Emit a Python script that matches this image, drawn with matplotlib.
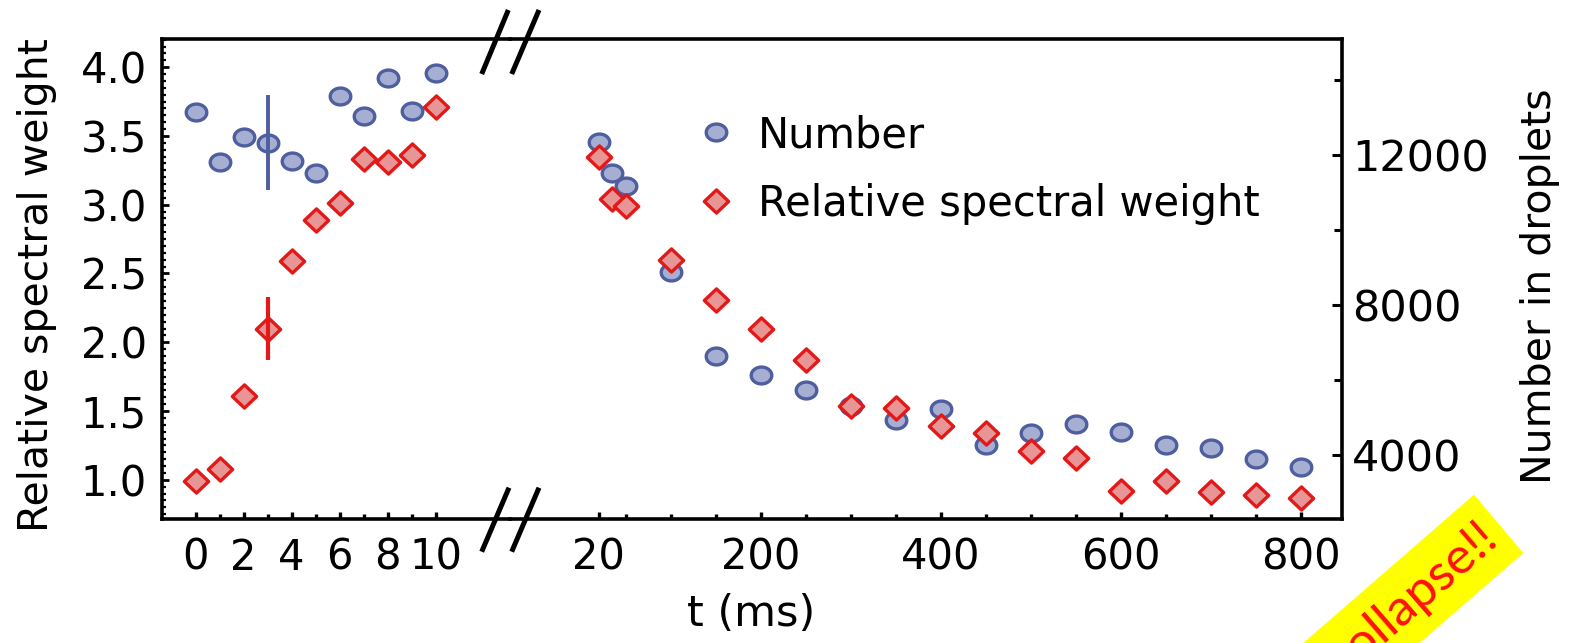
import matplotlib
matplotlib.use("Agg")
import matplotlib.pyplot as plt
import numpy as np
from matplotlib.path import Path
from matplotlib.lines import Line2D
from matplotlib.patches import Polygon
from matplotlib.ticker import MultipleLocator, FormatStrFormatter

# ---------------- data ----------------
t_early = [0, 1, 2, 3, 4, 5, 6, 7, 8, 9, 10]
number_early = [13150, 11820, 12490, 12330, 11850, 11530, 13580, 13040, 14040, 13180, 14180]
weight_early = [0.99, 1.08, 1.61, 2.10, 2.59, 2.89, 3.01, 3.33, 3.31, 3.36, 3.71]

t_late = [20, 35, 50, 100, 150, 200, 250, 300, 350, 400, 450, 500, 550, 600, 650, 700, 750, 800]
number_late = [12350, 11530, 11170, 8890, 6640, 6130, 5750, 5310, 4930, 5230, 4270, 4600,
               4820, 4630, 4270, 4200, 3890, 3680]
weight_late = [3.35, 3.04, 2.99, 2.60, 2.31, 2.10, 1.87, 1.54, 1.52, 1.39, 1.34, 1.21,
               1.16, 0.92, 0.99, 0.91, 0.89, 0.87]

err_t = [3]
err_number_val = [12330]
err_number = [1275]
err_weight_val = [2.10]
err_weight = [0.23]

xticks_early = [0, 2, 4, 6, 8, 10]
xticks_early_minor = [1, 3, 5, 7, 9]
xticks_late = [20, 200, 400, 600, 800]
xticks_late_minor = [50, 100, 150, 250, 300, 350, 450, 500, 550, 650, 700, 750]
yticks_left = [1.0, 1.5, 2.0, 2.5, 3.0, 3.5, 4.0]
yticks_right = [4000, 8000, 12000]
yticks_right_minor = [6000, 10000, 14000]

# ---------------- layout helpers ----------------
W, H = 1574, 643
fig = plt.figure(figsize=(W / 100, H / 100), dpi=100)
plt.rcParams["font.family"] = ["DejaVu Sans"]


def fx(px):
    return px / W


def fy(py):
    return 1 - py / H


LEFT, BRK, RIGHT, TOP, BOT = 161.7, 510.0, 1342.3, 39.3, 518.7
rectL = [fx(LEFT), fy(BOT), fx(BRK) - fx(LEFT), fy(TOP) - fy(BOT)]
rectR = [fx(BRK), fy(BOT), fx(RIGHT) - fx(BRK), fy(TOP) - fy(BOT)]

XL_EARLY = (-1.417, 13.10)
XL_LATE = (-78.6, 846.2)
YL_W = (0.717, 4.203)
YL_N = (2308, 15083)

blue_face, blue_edge = "#a6aed2", "#4e5e9e"
red_face, red_edge = "#e79595", "#e31818"

th = np.linspace(0, 2 * np.pi, 73)
ellipse = Path(np.column_stack([np.cos(th), 0.82 * np.sin(th)]), closed=True)
diamond = Path([(0, 1), (1.05, 0), (0, -1), (-1.05, 0), (0, 1)], closed=True)

ms_c, ms_d, mew = 14.8, 17.5, 2.4
SPW = 2.6
FS = 30

# number-scale axes (drawn first, underneath)
axLn = fig.add_axes(rectL)
axRn = fig.add_axes(rectR)
# weight-scale axes (on top, transparent)
axLw = fig.add_axes(rectL)
axRw = fig.add_axes(rectR)

for a in (axLw, axRw):
    a.patch.set_alpha(0)

for a, xl in ((axLn, XL_EARLY), (axLw, XL_EARLY), (axRn, XL_LATE), (axRw, XL_LATE)):
    a.set_xlim(*xl)
for a in (axLn, axRn):
    a.set_ylim(*YL_N)
for a in (axLw, axRw):
    a.set_ylim(*YL_W)

# --- Number series (blue circles)
for a, t, n in ((axLn, t_early, number_early), (axRn, t_late, number_late)):
    a.plot(t, n, ls="none", marker=ellipse, ms=ms_c, mfc=blue_face, mec=blue_edge, mew=mew, zorder=2)
axLn.errorbar(err_t, err_number_val, yerr=err_number, fmt="none", ecolor=blue_edge, elinewidth=2.8, capsize=0, zorder=3)

# --- Relative spectral weight series (red diamonds)
for a, t, w in ((axLw, t_early, weight_early), (axRw, t_late, weight_late)):
    a.plot(t, w, ls="none", marker=diamond, ms=ms_d, mfc=red_face, mec=red_edge, mew=mew, zorder=2)
axLw.errorbar(err_t, err_weight_val, yerr=err_weight, fmt="none", ecolor=red_edge, elinewidth=3.0, capsize=0, zorder=3)

# --- spines
for s in axLn.spines.values():
    s.set_visible(False)
axLn.set_xticks([])
axLn.set_yticks([])
for s in ("top", "bottom", "left"):
    axLw.spines[s].set_linewidth(SPW)
axLw.spines["right"].set_visible(False)

for s in ("top", "bottom", "left"):
    axRn.spines[s].set_visible(False)
axRn.spines["right"].set_linewidth(SPW)
axRn.set_xticks([])

for s in ("top", "bottom"):
    axRw.spines[s].set_linewidth(SPW)
for s in ("left", "right"):
    axRw.spines[s].set_visible(False)
axRw.set_yticks([])

# --- left weight axis ticks
axLw.set_yticks(yticks_left)
axLw.yaxis.set_major_formatter(FormatStrFormatter("%.1f"))
axLw.yaxis.set_minor_locator(MultipleLocator(0.05))
axLw.tick_params(axis="y", which="major", direction="in", length=5, width=2, labelsize=FS, pad=10.5)
axLw.tick_params(axis="y", which="minor", direction="in", length=2.8, width=1.6)

# --- bottom ticks
axLw.set_xticks(xticks_early)
axLw.set_xticks(xticks_early_minor, minor=True)
axRw.set_xticks(xticks_late)
axRw.set_xticks(xticks_late_minor, minor=True)
for a in (axLw, axRw):
    a.tick_params(axis="x", which="major", direction="in", length=5, width=2.4, labelsize=FS, pad=13)
    a.tick_params(axis="x", which="minor", direction="in", length=3.5, width=2.4)

# --- right number axis ticks
axRn.yaxis.tick_right()
axRn.set_yticks(yticks_right)
axRn.set_yticks(yticks_right_minor, minor=True)
axRn.tick_params(axis="y", which="major", direction="in", length=7, width=2.2, labelsize=31, pad=7)
axRn.tick_params(axis="y", which="minor", direction="in", length=5.5, width=2.2)

# --- axis labels
fig.text(fx(37), fy(285), "Relative spectral weight", rotation=90, ha="center", va="center", fontsize=29.5)
fig.text(fx(1540), fy(286), "Number in droplets", rotation=90, ha="center", va="center", fontsize=29.5)
fig.text(fx(751), fy(614), "t (ms)", ha="center", va="center", fontsize=31)

# --- legend
h_num = Line2D([], [], ls="none", marker=ellipse, ms=ms_c, mfc=blue_face, mec=blue_edge, mew=mew)
h_w = Line2D([], [], ls="none", marker=diamond, ms=ms_d, mfc=red_face, mec=red_edge, mew=mew)
axRw.legend([h_num, h_w], ["Number", "Relative spectral weight"], loc="upper left",
            bbox_to_anchor=(fx(695), fy(114)), bbox_transform=fig.transFigure,
            frameon=False, fontsize=30, handlelength=1.0, handletextpad=0.5,
            labelspacing=0.64, borderpad=0, borderaxespad=0, numpoints=1)

# --- axis break marks
for (x0, y0, x1, y1) in ((481.7, 74, 508.3, 10), (511.7, 74, 539, 10),
                         (481.7, 551.7, 509, 487.7), (511.7, 551.7, 539, 487.7)):
    fig.add_artist(Line2D([fx(x0), fx(x1)], [fy(y0), fy(y1)], transform=fig.transFigure,
                          color="black", lw=3.6, solid_capstyle="butt", zorder=10))

# --- yellow "collapse!!" sticker
dx, dy = -0.755 * 300, 0.656 * 300
A = (1474, 494.7)
B = (1523.3, 553)
C = (B[0] + dx, B[1] + dy)
D = (A[0] + dx, A[1] + dy)
fig.add_artist(Polygon([(fx(p[0]), fy(p[1])) for p in (A, B, C, D)], closed=True,
                       transform=fig.transFigure, facecolor="#ffff00", edgecolor="none", zorder=5))
fig.text(fx(1491), fy(531), "collapse!!", rotation=41, rotation_mode="anchor", ha="right", va="center",
         color="#ff1010", fontsize=37, family=["Lato", "DejaVu Sans"], zorder=6)

fig.savefig("out.png", dpi=100)
